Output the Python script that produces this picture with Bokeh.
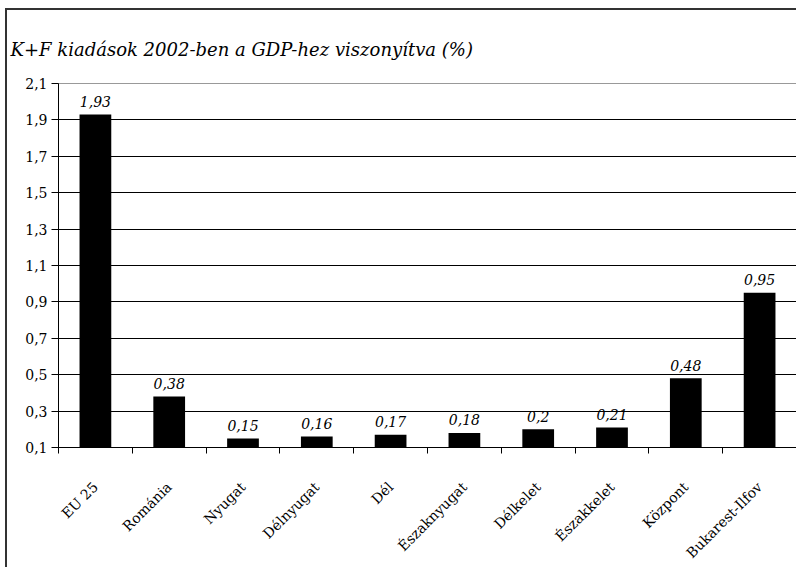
import math
from bokeh.plotting import figure
from bokeh.models import (Range1d, FixedTicker, CustomJSTickFormatter, ColumnDataSource)
from bokeh.core.properties import value
from bokeh.embed import file_html
from bokeh.resources import INLINE

TITLE = "K+F kiadások 2002-ben a GDP-hez viszonyítva (%)"
CATEGORIES = ["EU 25", "Románia", "Nyugat", "Délnyugat", "Dél", "Északnyugat",
              "Délkelet", "Északkelet", "Központ", "Bukarest-Ilfov"]
VALUES = [1.93, 0.38, 0.15, 0.16, 0.17, 0.18, 0.2, 0.21, 0.48, 0.95]
Y_TICKS = [0.1, 0.3, 0.5, 0.7, 0.9, 1.1, 1.3, 1.5, 1.7, 1.9, 2.1]

n = len(CATEGORIES)
xs = [i + 0.5 for i in range(n)]
labels = [str(v).replace(".", ",") for v in VALUES]
src = ColumnDataSource(dict(x=xs, top=VALUES, label=labels))

SERIF = "DejaVu Serif"

p = figure(width=791, height=559, output_backend="svg", toolbar_location=None,
           x_range=Range1d(0, n), y_range=Range1d(Y_TICKS[0], Y_TICKS[-1]),
           min_border_left=51, min_border_right=2, min_border_top=73, min_border_bottom=122)
p.margin = (8, 0, 0, 5)
p.styles = {"border-left": "2px solid #333333", "border-top": "2px solid #333333"}
p.background_fill_color = "white"
p.border_fill_color = "white"
p.outline_line_color = "#999999"
p.outline_line_width = 1

p.title.text = TITLE
p.title.text_font = SERIF
p.title.text_font_style = "italic"
p.title.text_font_size = "18px"
p.title.text_color = "black"
p.title.align = "left"
p.title.offset = -48
p.title.standoff = 48

p.vbar(x="x", top="top", bottom=0, width=0.43, source=src, fill_color="black", line_color=None)
p.text(x="x", y="top", text="label", source=src, text_align="center", text_baseline="middle",
       y_offset=-13, text_font=value(SERIF), text_font_style="italic", text_font_size="14px",
       text_color="black")

# y axis
p.yaxis.ticker = FixedTicker(ticks=Y_TICKS)
p.yaxis.formatter = CustomJSTickFormatter(code="return tick.toFixed(1).replace('.', ',');")
p.yaxis.major_tick_out = 7
p.yaxis.major_tick_in = 0
p.yaxis.minor_tick_out = 0
p.yaxis.minor_tick_in = 0
p.yaxis.axis_line_color = "black"
p.yaxis.major_tick_line_color = "black"
p.yaxis.major_label_text_font = SERIF
p.yaxis.major_label_text_font_size = "14px"
p.yaxis.major_label_text_color = "black"
p.yaxis.major_label_standoff = 4

p.ygrid.ticker = FixedTicker(ticks=Y_TICKS)
p.ygrid.grid_line_color = "black"
p.ygrid.grid_line_width = 1
p.xgrid.visible = False

# x axis: labels at centers, ticks at boundaries
p.xaxis.ticker = FixedTicker(ticks=xs, minor_ticks=list(range(n + 1)))
p.xaxis.formatter = CustomJSTickFormatter(args=dict(cats=CATEGORIES),
                                          code="return cats[Math.floor(tick)];")
p.xaxis.major_tick_out = 0
p.xaxis.major_tick_in = 0
p.xaxis.minor_tick_out = 6
p.xaxis.minor_tick_in = 0
p.xaxis.minor_tick_line_color = "black"
p.xaxis.axis_line_color = "black"
p.xaxis.major_label_orientation = math.pi / 4
p.xaxis.major_label_text_font = SERIF
p.xaxis.major_label_text_font_size = "14px"
p.xaxis.major_label_text_color = "black"
p.xaxis.major_label_standoff = 31

open("out.html", "w").write(file_html(p, INLINE))
